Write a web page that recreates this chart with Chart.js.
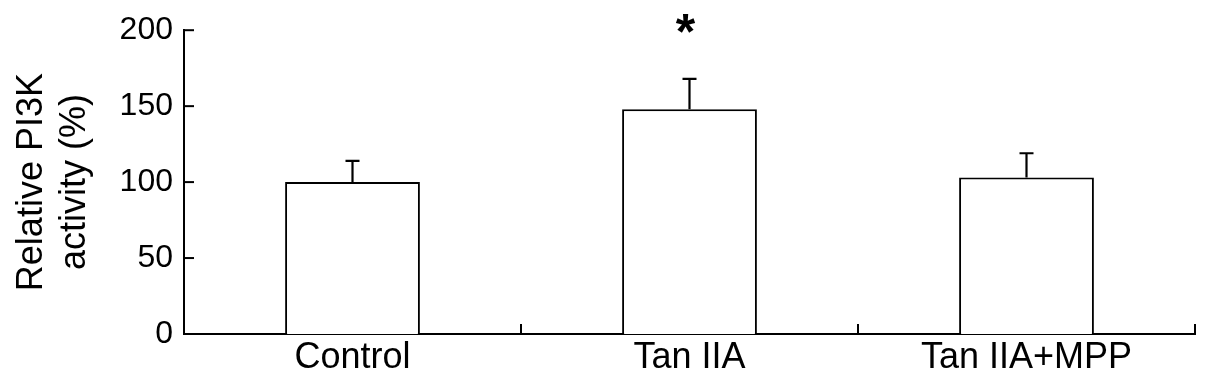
<!DOCTYPE html>
<html>
<head>
<meta charset="utf-8">
<script src="https://cdn.jsdelivr.net/npm/chart.js@4/dist/chart.umd.min.js"></script>
<style>
  html, body { margin: 0; padding: 0; background: #fff; }
  #wrap { width: 1205px; height: 380px; position: relative; }
</style>
</head>
<body>
<div id="wrap"><canvas id="c"></canvas></div>
<script>
const categories = ['Control', 'Tan IIA', 'Tan IIA+MPP'];
const values = [100, 148, 103];
const errors = [14, 20, 16];
const significance = ['', '*', ''];
const yTicks = [0, 50, 100, 150, 200];
const yTitle = ['Relative PI3K', 'activity (%)'];

const FONT = "'Liberation Sans', Arial, sans-serif";

const extras = {
  id: 'extras',
  afterDatasetsDraw(chart) {
    const ctx = chart.ctx;
    const meta = chart.getDatasetMeta(0);
    const y = chart.scales.y;
    const x = chart.scales.x;
    ctx.save();
    ctx.strokeStyle = '#000';
    ctx.lineWidth = 2.2;
    // error bars
    meta.data.forEach((bar, i) => {
      const top = y.getPixelForValue(values[i]);
      const end = y.getPixelForValue(values[i] + errors[i]);
      ctx.beginPath();
      ctx.moveTo(bar.x, top);
      ctx.lineTo(bar.x, end);
      ctx.moveTo(bar.x - 7, end);
      ctx.lineTo(bar.x + 7, end);
      ctx.stroke();
    });
    // inward y ticks
    ctx.lineWidth = 2;
    yTicks.forEach(v => {
      const py = y.getPixelForValue(v);
      ctx.beginPath();
      ctx.moveTo(chart.chartArea.left, py);
      ctx.lineTo(chart.chartArea.left + 10, py);
      ctx.stroke();
    });
    // inward x ticks at category boundaries
    const step = x.getPixelForValue(1) - x.getPixelForValue(0);
    for (let i = 0; i < categories.length; i++) {
      const px = x.getPixelForValue(i) + step / 2;
      ctx.beginPath();
      ctx.moveTo(px, chart.chartArea.bottom);
      ctx.lineTo(px, chart.chartArea.bottom - 10);
      ctx.stroke();
    }
    // significance marks
    ctx.fillStyle = '#000';
    ctx.font = 'bold 50px ' + FONT;
    ctx.textAlign = 'center';
    ctx.textBaseline = 'middle';
    meta.data.forEach((bar, i) => {
      if (significance[i]) {
        ctx.fillText(significance[i], bar.x - 4, y.getPixelForValue(200) + 5);
      }
    });
    ctx.restore();
  }
};

new Chart(document.getElementById('c'), {
  type: 'bar',
  data: {
    labels: categories,
    datasets: [{
      data: values,
      backgroundColor: '#ffffff',
      borderColor: '#000000',
      borderWidth: 2,
      borderSkipped: 'start',
      barPercentage: 0.4,
      categoryPercentage: 1.0
    }]
  },
  options: {
    responsive: true,
    maintainAspectRatio: false,
    animation: false,
    events: [],
    layout: { padding: { top: 25, right: 10, left: 0, bottom: 0 } },
    plugins: { legend: { display: false }, tooltip: { enabled: false } },
    scales: {
      x: {
        offset: true,
        grid: { display: false, drawTicks: false },
        border: { display: true, color: '#000', width: 2 },
        ticks: { color: '#000', font: { family: FONT, size: 36 }, padding: 2, maxRotation: 0, autoSkip: false },
        afterFit(s) { s.height = 46; }
      },
      y: {
        min: 0, max: 200,
        afterBuildTicks(s) { s.ticks = yTicks.map(v => ({ value: v })); },
        grid: { display: false, drawTicks: false },
        border: { display: true, color: '#000', width: 2 },
        ticks: { color: '#000', font: { family: FONT, size: 32 }, padding: 11 },
        title: { display: true, text: yTitle, color: '#000', font: { family: FONT, size: 36, lineHeight: 1.2 }, padding: { top: 10, bottom: 0 } },
        afterFit(s) { s.width = 184; }
      }
    }
  },
  plugins: [extras]
});
</script>
</body>
</html>
